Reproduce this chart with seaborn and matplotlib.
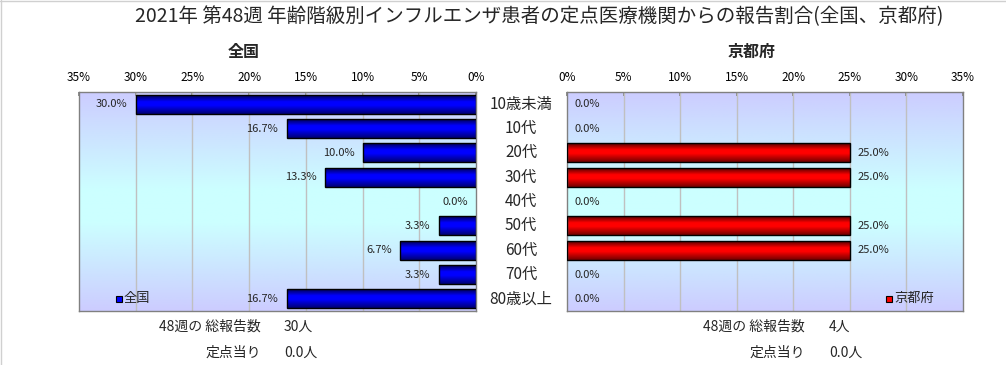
import numpy as np
import pandas as pd
import matplotlib
matplotlib.use("Agg")
import matplotlib.pyplot as plt
import seaborn as sns
from matplotlib.colors import LinearSegmentedColormap
from matplotlib import transforms
from matplotlib.patches import Rectangle
from matplotlib.lines import Line2D

# ---- data ----
categories = ["10歳未満", "10代", "20代", "30代", "40代", "50代", "60代", "70代", "80歳以上"]
national = [30.0, 16.7, 10.0, 13.3, 0.0, 3.3, 6.7, 3.3, 16.7]
kyoto = [0.0, 0.0, 25.0, 25.0, 0.0, 25.0, 25.0, 0.0, 0.0]
xticks = [0, 5, 10, 15, 20, 25, 30, 35]
title = "2021年 第48週 年齢階級別インフルエンザ患者の定点医療機関からの報告割合(全国、京都府)"
left_title = "全国"
right_title = "京都府"
left_total = "30人"
left_per = "0.0人"
right_total = "4人"
right_per = "0.0人"

sns.set_theme(style="white")
plt.rcParams["font.family"] = ["Noto Sans CJK JP", "DejaVu Sans"]

W, H = 1006, 365
fig = plt.figure(figsize=(W / 100, H / 100), dpi=100)
fig.patch.set_facecolor("white")

def fx(px):
    return px / W

def fy(py):
    return 1 - py / H

ax_top, ax_bot = 92, 311
axL = fig.add_axes([fx(79), fy(ax_bot), fx(476 - 79), (ax_bot - ax_top) / H])
axR = fig.add_axes([fx(567), fy(ax_bot), fx(963 - 567), (ax_bot - ax_top) / H])

df_n = pd.DataFrame({"cat": categories, "val": national})
df_k = pd.DataFrame({"cat": categories, "val": kyoto})

sns.barplot(data=df_n, x="val", y="cat", orient="h", ax=axL, color="#0000FF",
            edgecolor="black", linewidth=1.0, width=0.78, saturation=1)
sns.barplot(data=df_k, x="val", y="cat", orient="h", ax=axR, color="#FF0000",
            edgecolor="black", linewidth=1.0, width=0.78, saturation=1)

bg_cmap = LinearSegmentedColormap.from_list(
    "bg", [(0, "#CCCCFF"), (0.45, "#CCFFFF"), (0.6, "#CCFFFF"), (1.0, "#CCCCFF")])
blue_cmap = LinearSegmentedColormap.from_list(
    "bb", [(0, "#000050"), (0.35, "#0000FF"), (0.55, "#0000FF"), (1.0, "#000070")])
red_cmap = LinearSegmentedColormap.from_list(
    "rr", [(0, "#500000"), (0.35, "#FF0000"), (0.55, "#FF0000"), (1.0, "#700000")])

grad = np.linspace(0, 1, 256).reshape(-1, 1)

for ax, vals, cmap, side in [(axL, national, blue_cmap, "L"), (axR, kyoto, red_cmap, "R")]:
    # background gradient
    ax.imshow(grad, aspect="auto", cmap=bg_cmap, extent=[0, 1, 0, 1],
              transform=ax.transAxes, zorder=0, origin="upper")
    for xv in xticks[1:-1]:
        ax.axvline(xv, color="#C0C0C0", lw=1.0, zorder=1)
    # bar gradients
    for p in ax.patches:
        x0, y0 = p.get_x(), p.get_y()
        w, h = p.get_width(), p.get_height()
        if w == 0:
            p.set_visible(False)
            continue
        p.set_zorder(3)
        im = ax.imshow(grad, aspect="auto", cmap=cmap,
                       extent=[x0, x0 + w, y0 + h, y0], origin="upper", zorder=2.5)
        im.set_clip_path(p)
        p.set_facecolor("none")
    if side == "L":
        ax.set_xlim(35, 0)
    else:
        ax.set_xlim(0, 35)
    ax.set_ylim(len(categories) - 0.5, -0.5)
    ax.xaxis.tick_top()
    ax.set_xticks(xticks)
    ax.set_xticklabels([f"{t}%" for t in xticks], fontsize=8.5, color="black")
    ax.tick_params(axis="x", direction="in", length=3, color="#808080", pad=6, top=True)
    ax.set_yticks([])
    ax.set_xlabel("")
    ax.set_ylabel("")
    for s in ax.spines.values():
        s.set_color("#808080")
        s.set_linewidth(1.0)
    # data labels
    for i, v in enumerate(vals):
        if side == "L":
            ax.annotate(f"{v:.1f}%", (v, i), xytext=(-6, 0), textcoords="offset points",
                        ha="right", va="center", fontsize=8, zorder=5)
        else:
            ax.annotate(f"{v:.1f}%", (v, i), xytext=(5.5, 0), textcoords="offset points",
                        ha="left", va="center", fontsize=8, zorder=5)

# category labels between the panels
tr = transforms.blended_transform_factory(fig.transFigure, axL.transData)
for i, c in enumerate(categories):
    axL.text(fx(521), i, c, transform=tr, ha="center", va="center", fontsize=11,
             clip_on=False)

# titles
fig.text(fx(539), fy(17), title, ha="center", va="center", fontsize=14)
fig.text(fx(244), fy(52), left_title, ha="center", va="center", fontsize=11.5, fontweight="bold")
fig.text(fx(752), fy(52), right_title, ha="center", va="center", fontsize=11.5, fontweight="bold")

# legends
for sx, txt, col in [(116, left_title, "#0000FF"), (886, right_title, "#FF0000")]:
    fig.add_artist(Rectangle((fx(sx), fy(302)), 6 / W, 6 / H, transform=fig.transFigure,
                             facecolor=col, edgecolor="black", lw=0.8, zorder=10))
    fig.text(fx(sx + 8), fy(298.5), txt, ha="left", va="center", fontsize=9.5, zorder=10)

# bottom texts
for xr, xl, tot, per in [(261, 284, left_total, left_per), (805, 829, right_total, right_per)]:
    fig.text(fx(xr), fy(327), "48週の 総報告数", ha="right", va="center", fontsize=10)
    fig.text(fx(xl), fy(327), tot, ha="left", va="center", fontsize=10)
    fig.text(fx(xr), fy(353), "定点当り", ha="right", va="center", fontsize=10)
    fig.text(fx(xl), fy(353), per, ha="left", va="center", fontsize=10)

# partial frame (top and left)
fig.add_artist(Line2D([0, 1], [1 - 0.5 / H, 1 - 0.5 / H], transform=fig.transFigure, color="#D0D0D0", lw=1))
fig.add_artist(Line2D([0.5 / W, 0.5 / W], [0, 1], transform=fig.transFigure, color="#D0D0D0", lw=1))

fig.savefig("out.png", dpi=100)
